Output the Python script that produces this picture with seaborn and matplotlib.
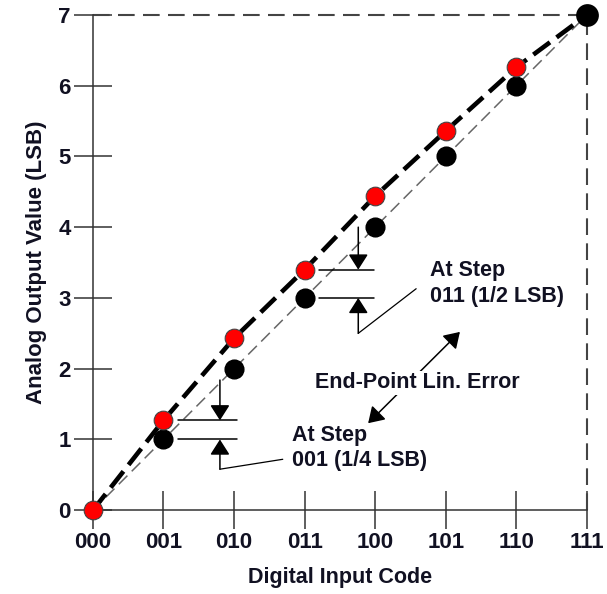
import seaborn as sns
import pandas as pd
import matplotlib
matplotlib.use("Agg")
import matplotlib.pyplot as plt

# data
codes = ["000", "001", "010", "011", "100", "101", "110", "111"]
ideal = [0, 1, 2, 3, 4, 5, 6, 7]
actual = [0, 1.27, 2.43, 3.40, 4.44, 5.36, 6.26, 7]

df = pd.DataFrame({"x": range(len(codes)), "ideal": ideal, "actual": actual})

sns.set_style("white")
plt.rcParams["font.family"] = ["Liberation Sans", "DejaVu Sans"]
plt.rcParams["font.weight"] = "bold"
txt = "#111122"
head = "-|>,head_length=0.47,head_width=0.3"

fig = plt.figure(figsize=(6.07, 5.94), dpi=100)
ax = fig.add_axes([0.153, 0.141, 0.814, 0.834])

# reference lines: top and right dashed box edges
ax.plot([0, 7], [7, 7], color="#444444", lw=1.5, dashes=(8, 4), clip_on=False)
ax.plot([7, 7], [0, 7], color="#444444", lw=1.5, dashes=(8, 4), clip_on=False)

# ideal straight line and actual curve
sns.lineplot(data=df, x="x", y="ideal", ax=ax, color="#666666", lw=1.1,
             zorder=2).lines[-1].set_dashes((8, 4))
sns.lineplot(data=df, x="x", y="actual", ax=ax, color="black", lw=3.3,
             zorder=3).lines[-1].set_dashes((4.5, 1.8))

sns.scatterplot(data=df.iloc[1:-1], x="x", y="ideal", ax=ax, color="black",
                s=180, edgecolor="black", zorder=4, clip_on=False)
sns.scatterplot(data=df.iloc[-1:], x="x", y="ideal", ax=ax, color="black",
                s=230, edgecolor="black", zorder=4, clip_on=False)
sns.scatterplot(data=df.iloc[:-1], x="x", y="actual", ax=ax, color="#ff0000",
                s=180, edgecolor="#444444", linewidth=0.8, zorder=5, clip_on=False)

# step 001 annotation
for yy in [actual[1], ideal[1]]:
    ax.plot([1.2, 2.04], [yy, yy], color="black", lw=1.1)
ax.annotate("", xy=(1.8, actual[1]), xytext=(1.8, 1.84),
            arrowprops=dict(arrowstyle=head, color="black", lw=1.1, mutation_scale=20,
                            shrinkA=0, shrinkB=0))
ax.annotate("", xy=(1.8, ideal[1]), xytext=(1.8, 0.58),
            arrowprops=dict(arrowstyle=head, color="black", lw=1.1, mutation_scale=20,
                            shrinkA=0, shrinkB=0))
ax.plot([1.8, 2.69], [0.58, 0.72], color="black", lw=0.9)
ax.text(2.82, 0.88, "At Step\n001 (1/4 LSB)", fontsize=15.5, fontweight="bold",
        color=txt, va="center", ha="left", linespacing=1.3)

# step 011 annotation
for yy in [actual[3], ideal[3]]:
    ax.plot([3.2, 3.98], [yy, yy], color="black", lw=1.1)
ax.annotate("", xy=(3.76, actual[3]), xytext=(3.76, 4.0),
            arrowprops=dict(arrowstyle=head, color="black", lw=1.1, mutation_scale=20,
                            shrinkA=0, shrinkB=0))
ax.annotate("", xy=(3.76, ideal[3]), xytext=(3.76, 2.5),
            arrowprops=dict(arrowstyle=head, color="black", lw=1.1, mutation_scale=20,
                            shrinkA=0, shrinkB=0))
ax.plot([3.76, 4.58], [2.5, 3.13], color="black", lw=0.9)
ax.text(4.78, 3.2, "At Step\n011 (1/2 LSB)", fontsize=15.5, fontweight="bold",
        color=txt, va="center", ha="left", linespacing=1.3)

# end-point error
ax.annotate("", xy=(3.9, 1.23), xytext=(5.2, 2.52),
            arrowprops=dict(arrowstyle="<|-|>,head_length=0.47,head_width=0.3",
                            color="black", lw=1.1, mutation_scale=20,
                            shrinkA=0, shrinkB=0))
ax.text(4.6, 1.8, "End-Point Lin. Error", fontsize=15.5, fontweight="bold",
        color=txt, ha="center", va="center",
        bbox=dict(facecolor="white", edgecolor="none", pad=1))

ax.set_xlim(0, 7)
ax.set_ylim(0, 7)
ax.set_xticks(range(8))
ax.set_xticklabels(codes)
ax.set_yticks(range(8))
ax.tick_params(bottom=True, left=True, direction="inout", length=28, width=1.1,
               color="#333333", labelsize=16, labelcolor=txt, pad=2)
for lab in ax.get_xticklabels() + ax.get_yticklabels():
    lab.set_fontweight("bold")
ax.set_xlabel("Digital Input Code", fontsize=15.5, fontweight="bold", color=txt, labelpad=10)
ax.set_ylabel("Analog Output Value (LSB)", fontsize=16, fontweight="bold", color=txt, labelpad=8)
for s in ["top", "right"]:
    ax.spines[s].set_visible(False)
for s in ["left", "bottom"]:
    ax.spines[s].set_color("#333333")
    ax.spines[s].set_linewidth(1.1)

fig.savefig("out.png", dpi=100)
